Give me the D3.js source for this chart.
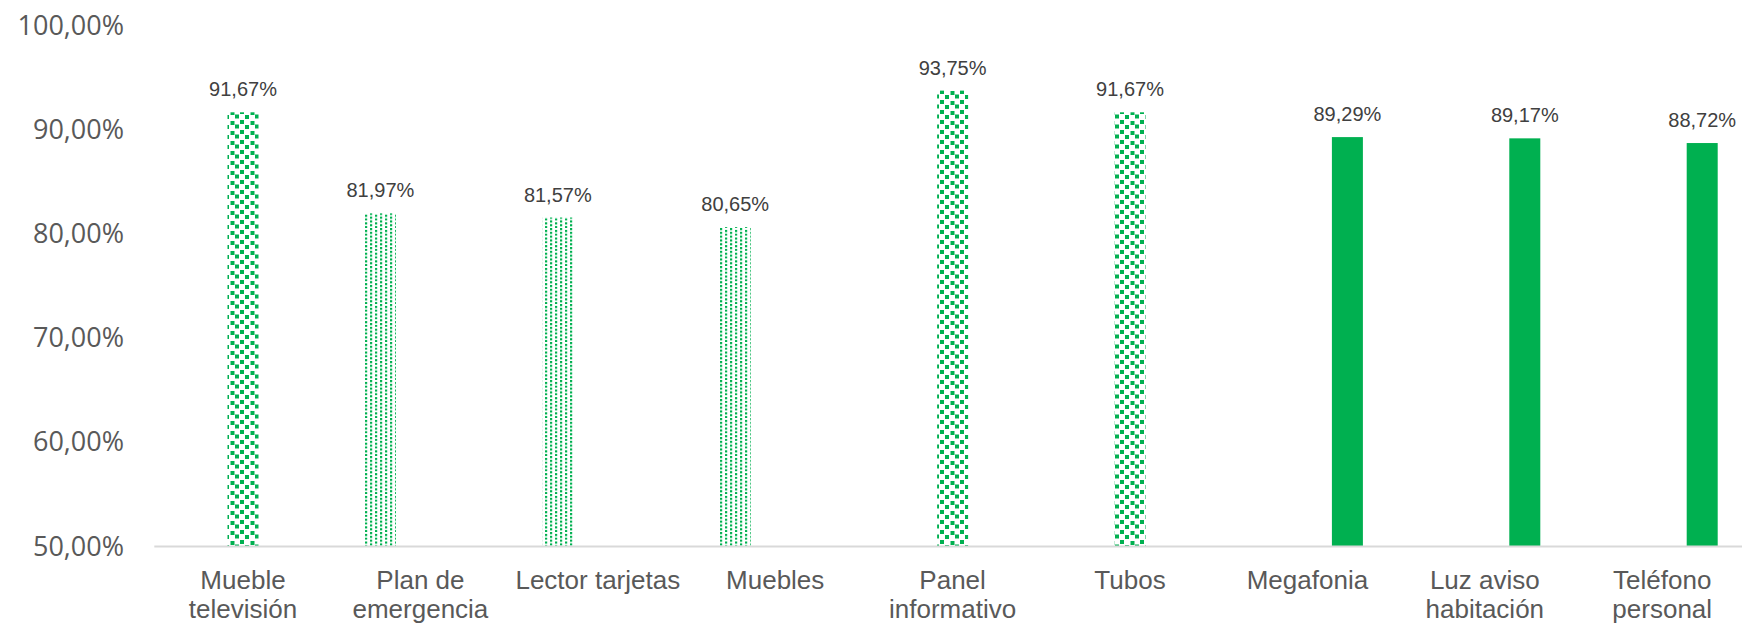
<!DOCTYPE html>
<html>
<head>
<meta charset="utf-8">
<script src="https://cdn.jsdelivr.net/npm/d3@7"></script>
<style>
  html, body { margin: 0; padding: 0; background: #ffffff; }
  svg { display: block; }
</style>
</head>
<body>
<svg id="chart" width="1742" height="623"></svg>
<script>
"use strict";

// categories and the three series (each category only has a value in one series)
const categories = ["Mueble televisión", "Plan de emergencia", "Lector tarjetas", "Muebles",
                    "Panel informativo", "Tubos", "Megafonia", "Luz aviso habitación", "Teléfono personal"];
const seriesNames = ["puntos", "confeti", "solido"];
const valuesPuntos  = [null, 81.97, 81.57, 80.65, null, null, null, null, null];
const valuesConfeti = [91.67, null, null, null, 93.75, 91.67, null, null, null];
const valuesSolido  = [null, null, null, null, null, null, 89.29, 89.17, 88.72];
const yTicks = [50, 60, 70, 80, 90, 100];

const GREEN = "#00B050";
const fmt = v => v.toFixed(2).replace(".", ",") + "%";

window.addEventListener("load", initChart);

function wrapLabel(textSel, maxWidth) {
    textSel.each(function() {
        let text = d3.select(this);
        let words = text.text().split(" ");
        text.text(null);
        let line = [];
        let tspan = text.append("tspan").attr("x", 0).attr("dy", 0);
        words.forEach(function(w) {
            line.push(w);
            tspan.text(line.join(" "));
            if (tspan.node().getComputedTextLength() > maxWidth && line.length > 1) {
                line.pop();
                tspan.text(line.join(" "));
                line = [w];
                tspan = text.append("tspan").attr("x", 0).attr("dy", 29).text(w);
            }
        });
    });
}

function initChart() {
    const svg = d3.select("svg#chart");

    // scales
    let xScale = d3.scaleBand().domain(categories).range([154.3, 1750.9]).padding(0);
    let xSub = d3.scaleBand().domain(seriesNames).range([-60, 60])
        .paddingInner(0.225).paddingOuter(0.1125);
    let yScale = d3.scaleLinear().domain([50, 100]).range([546.5, 25.5]);

    // fill patterns
    let defs = svg.append("defs");
    let pDots = defs.append("pattern").attr("id", "pat-puntos")
        .attr("patternUnits", "userSpaceOnUse").attr("width", 10).attr("height", 7.6);
    [[0, 0], [0, 3.8], [5, 1.9], [5, 5.7]].forEach(p => {
        pDots.append("rect").attr("x", p[0]).attr("y", p[1])
            .attr("width", 2.2).attr("height", 2.2).attr("fill", GREEN);
    });
    let pConf = defs.append("pattern").attr("id", "pat-confeti")
        .attr("patternUnits", "userSpaceOnUse").attr("width", 20).attr("height", 10);
    [[0, 0], [10.5, 1], [5, 5], [15, 4.5]].forEach(p => {
        pConf.append("rect").attr("x", p[0]).attr("y", p[1])
            .attr("width", 4).attr("height", 4).attr("fill", GREEN);
    });
    const fills = {puntos: "url(#pat-puntos)", confeti: "url(#pat-confeti)", solido: GREEN};

    // build bar records from the series arrays
    let bars = [];
    [valuesPuntos, valuesConfeti, valuesSolido].forEach((vals, si) => {
        vals.forEach((v, i) => {
            if (v !== null) bars.push({cat: categories[i], series: seriesNames[si], value: v});
        });
    });

    // y axis tick labels (no gridlines)
    let yAxis = d3.axisLeft(yScale).tickValues(yTicks)
        .tickFormat(d => d.toFixed(2).replace(".", ",") + "%").tickSize(0).tickPadding(0);
    let gy = svg.append("g").attr("transform", "translate(124,0)").call(yAxis);
    gy.select(".domain").remove();
    gy.selectAll("text")
        .attr("fill", "#595959")
        .style("font-family", "'Open Sans', sans-serif")
        .style("font-size", "27px");

    // bars
    svg.append("g").selectAll("rect")
        .data(bars)
        .join("rect")
        .attr("x", d => xScale(d.cat) + xScale.bandwidth() / 2 + xSub(d.series))
        .attr("width", xSub.bandwidth())
        .attr("y", d => yScale(d.value))
        .attr("height", d => yScale(50) - yScale(d.value))
        .attr("fill", d => fills[d.series]);

    // baseline
    svg.append("line")
        .attr("x1", xScale.range()[0]).attr("x2", xScale.range()[1])
        .attr("y1", yScale(50)).attr("y2", yScale(50))
        .attr("stroke", "#D9D9D9").attr("stroke-width", 2);

    // data labels
    svg.append("g").selectAll("text")
        .data(bars)
        .join("text")
        .attr("x", d => xScale(d.cat) + xScale.bandwidth() / 2 + xSub(d.series) + xSub.bandwidth() / 2)
        .attr("y", d => yScale(d.value) - 16)
        .attr("text-anchor", "middle")
        .attr("fill", "#404040")
        .style("font-family", "'Liberation Sans', Arial, sans-serif")
        .style("font-size", "20px")
        .text(d => fmt(d.value));

    // category labels
    svg.append("g").selectAll("text")
        .data(categories)
        .join("text")
        .attr("transform", d => "translate(" + (xScale(d) + xScale.bandwidth() / 2) + "," + (yScale(50) + 42) + ")")
        .attr("text-anchor", "middle")
        .attr("fill", "#595959")
        .style("font-family", "'Liberation Sans', Arial, sans-serif")
        .style("font-size", "26px")
        .text(d => d)
        .call(wrapLabel, xScale.bandwidth() - 2);
}
</script>
</body>
</html>
